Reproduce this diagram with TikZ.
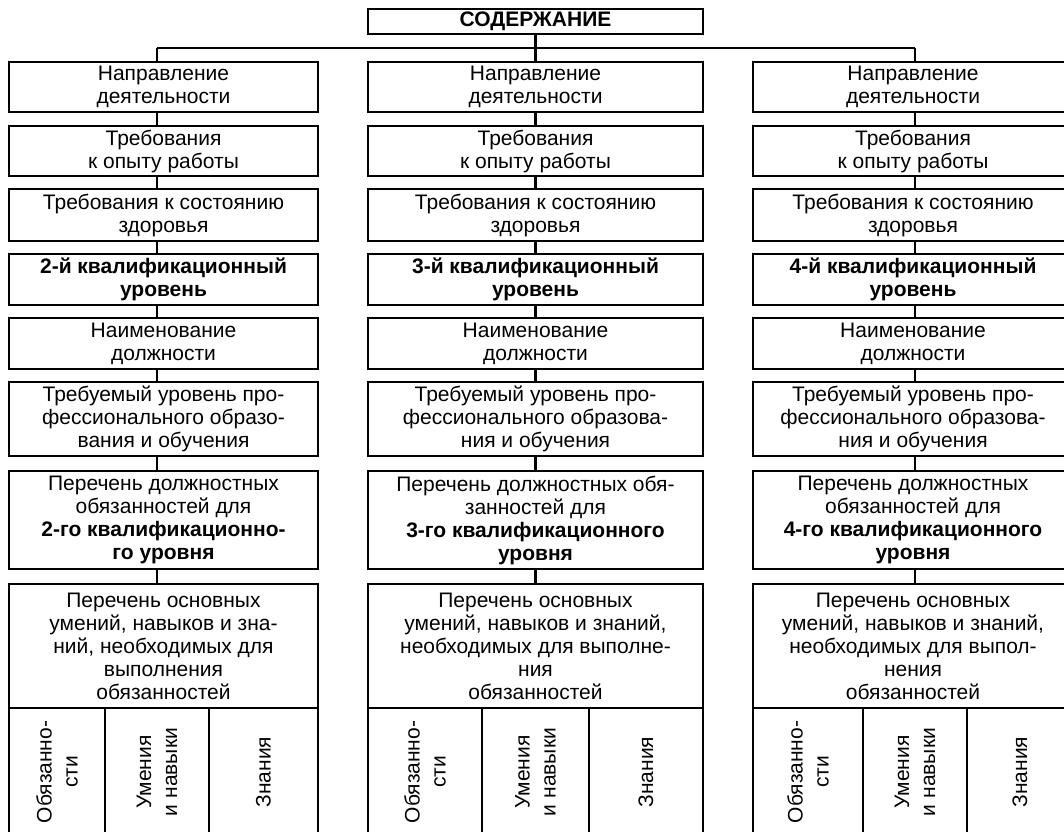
\documentclass[tikz,border=0pt]{standalone}
\usepackage{fontspec}
\setmainfont{Liberation Sans}
\newcommand\fsz{\fontsize{21}{23}\selectfont}
\newcommand\fsv{\fontsize{21}{26}\selectfont}
\tikzset{
  box/.style={draw, line width=2.2pt, inner sep=0pt, align=center, font=\fsz},
  vbox/.style={box, rotate=90, font=\fsv},
  ln/.style={line width=2.2pt},
}
\newcommand\bx[6]{\node[box, minimum width={(#3-#2)*1pt}, minimum height={(#5-#4)*1pt}] (#1) at ({(#2+#3)/2},{(#4+#5)/2}) {#6};}
\newcommand\vc[4]{\node[vbox, minimum width=128pt, minimum height={(#3-#2)*1pt}] (#1) at ({(#2+#3)/2},772) {#4};}
\begin{document}
\begin{tikzpicture}[x=1pt,y=-1pt]
\useasboundingbox (0,0) rectangle (1064,831);
\clip (0,0) rectangle (1064,831);
\fill[white] (0,0) rectangle (1064,831);

\bx{title}{368}{703}{9}{34}{\textbf{СОДЕРЖАНИЕ}}

% column 1
\bx{a1}{9}{318}{62}{112}{Направление\\деятельности}
\bx{a2}{9}{318}{126}{176}{Требования\\к опыту работы}
\bx{a3}{9}{318}{189}{241}{Требования к состоянию\\здоровья}
\bx{a4}{9}{318}{254}{305}{\textbf{2-й квалификационный}\\\textbf{уровень}}
\bx{a5}{9}{318}{318}{369}{Наименование\\должности}
\bx{a6}{9}{318}{382}{456}{Требуемый уровень про-\\фессионального образо-\\вания и обучения}
\bx{a7}{9}{318}{471}{569}{Перечень должностных\\обязанностей для\\\textbf{2-го квалификационно-}\\\textbf{го уровня}}
\bx{a8}{9}{318}{584}{708}{Перечень основных\\умений, навыков и зна-\\ний, необходимых для\\выполнения\\обязанностей}
\vc{a9}{9}{105}{Обязанно-\\сти}
\vc{a10}{105}{209}{Умения\\и навыки}
\vc{a11}{209}{318}{Знания}

% column 2
\bx{b1}{368}{703}{62}{112}{Направление\\деятельности}
\bx{b2}{368}{703}{126}{176}{Требования\\к опыту работы}
\bx{b3}{368}{703}{189}{241}{Требования к состоянию\\здоровья}
\bx{b4}{368}{703}{254}{305}{\textbf{3-й квалификационный}\\\textbf{уровень}}
\bx{b5}{368}{703}{318}{369}{Наименование\\должности}
\bx{b6}{368}{703}{382}{456}{Требуемый уровень про-\\фессионального образова-\\ния и обучения}
\bx{b7}{368}{703}{471}{569}{Перечень должностных обя-\\занностей для\\\textbf{3-го квалификационного}\\\textbf{уровня}}
\bx{b8}{368}{703}{584}{708}{Перечень основных\\умений, навыков и знаний,\\необходимых для выполне-\\ния\\обязанностей}
\vc{b9}{368}{482}{Обязанно-\\сти}
\vc{b10}{482}{589}{Умения\\и навыки}
\vc{b11}{589}{703}{Знания}

% column 3
\bx{c1}{753}{1073}{62}{112}{Направление\\деятельности}
\bx{c2}{753}{1073}{126}{176}{Требования\\к опыту работы}
\bx{c3}{753}{1073}{189}{241}{Требования к состоянию\\здоровья}
\bx{c4}{753}{1073}{254}{305}{\textbf{4-й квалификационный}\\\textbf{уровень}}
\bx{c5}{753}{1073}{318}{369}{Наименование\\должности}
\bx{c6}{753}{1073}{382}{456}{Требуемый уровень про-\\фессионального образова-\\ния и обучения}
\bx{c7}{753}{1073}{471}{569}{Перечень должностных\\обязанностей для\\\textbf{4-го квалификационного}\\\textbf{уровня}}
\bx{c8}{753}{1073}{584}{708}{Перечень основных\\умений, навыков и знаний,\\необходимых для выпол-\\нения\\обязанностей}
\vc{c9}{753}{863}{Обязанно-\\сти}
\vc{c10}{863}{967}{Умения\\и навыки}
\vc{c11}{967}{1073}{Знания}

% junctions
\coordinate (ja) at (157,48);
\coordinate (jb) at (title.south |- ja);
\coordinate (jc) at (915,48);

\draw[ln] (ja) -- (jc);
\draw[ln] (title.south) -- (b1.north);
\draw[ln] (ja) -- (ja |- a1.north);
\draw[ln] (jc) -- (jc |- c1.north);

\foreach \i [evaluate=\i as \j using int(\i+1)] in {1,...,7} {
  \draw[ln] (ja |- a\i.south) -- (ja |- a\j.north);
  \draw[ln] (jb |- b\i.south) -- (jb |- b\j.north);
  \draw[ln] (jc |- c\i.south) -- (jc |- c\j.north);
}
\end{tikzpicture}
\end{document}
